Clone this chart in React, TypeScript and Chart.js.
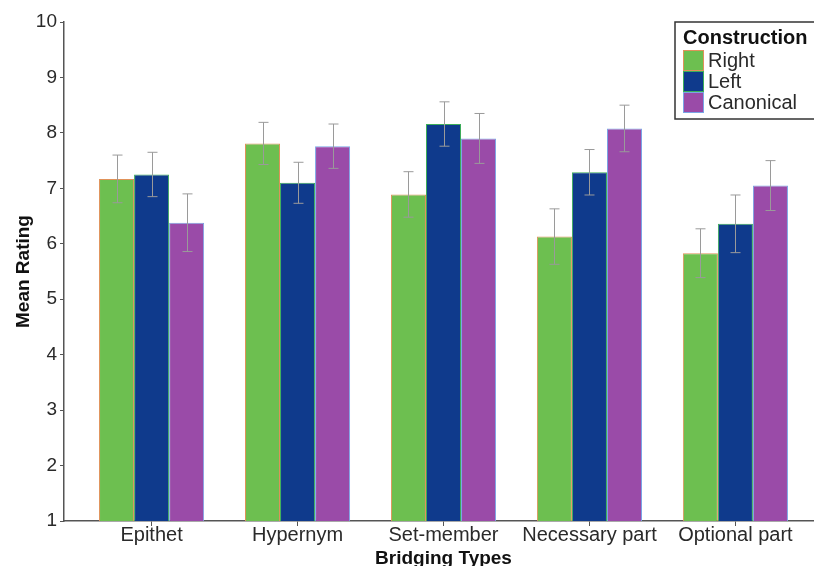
import React, { useEffect, useRef } from "react";
import { Chart, registerables } from "chart.js";

Chart.register(...registerables);

const categories = ["Epithet", "Hypernym", "Set-member", "Necessary part", "Optional part"];
const rightVals = [7.17, 7.81, 6.89, 6.13, 5.83];
const leftVals = [7.25, 7.10, 8.16, 7.29, 6.36];
const canonicalVals = [6.38, 7.76, 7.90, 8.08, 7.05];
const rightErr = [0.43, 0.38, 0.41, 0.5, 0.44];
const leftErr = [0.4, 0.37, 0.4, 0.41, 0.52];
const canonicalErr = [0.52, 0.4, 0.45, 0.42, 0.45];
const yTicks = [1, 2, 3, 4, 5, 6, 7, 8, 9, 10];
const seriesNames = ["Right", "Left", "Canonical"];

const FONT = "'Liberation Sans', Arial, sans-serif";
const TEXT = "#2a2a2a";
const AXIS = "#555555";

const fills = ["#6dbf50", "#0f3a8c", "#9a4ba8"];
const borders = ["#e0925a", "#3dae5a", "#7aa6e6"];

const errorBars = {
  id: "errorBars",
  afterDatasetsDraw(chart: any) {
    const ctx = chart.ctx;
    const y = chart.scales.y;
    const errs = [rightErr, leftErr, canonicalErr];
    ctx.save();
    ctx.strokeStyle = "#9a9a9a";
    ctx.lineWidth = 1;
    chart.data.datasets.forEach((ds: any, di: number) => {
      const meta = chart.getDatasetMeta(di);
      meta.data.forEach((bar: any, i: number) => {
        const v = ds.data[i].y;
        const e = errs[di][i];
        const top = y.getPixelForValue(v + e);
        const bot = y.getPixelForValue(v - e);
        const x = Math.round(bar.x) + 0.5;
        ctx.beginPath();
        ctx.moveTo(x, top);
        ctx.lineTo(x, bot);
        ctx.moveTo(x - 5, top);
        ctx.lineTo(x + 5, top);
        ctx.moveTo(x - 5, bot);
        ctx.lineTo(x + 5, bot);
        ctx.stroke();
      });
    });
    ctx.restore();
  },
};

const legendBox = {
  id: "legendBox",
  afterDraw(chart: any) {
    const ctx = chart.ctx;
    const area = chart.chartArea;
    const left = area.right - 148;
    const top = area.top;
    ctx.save();
    ctx.fillStyle = "#ffffff";
    ctx.fillRect(left, top, 160, 97);
    ctx.strokeStyle = "#333333";
    ctx.lineWidth = 1.5;
    ctx.strokeRect(left, top, 160, 97);
    ctx.fillStyle = "#111111";
    ctx.font = `bold 20px ${FONT}`;
    ctx.textBaseline = "middle";
    ctx.textAlign = "left";
    ctx.fillText("Construction", left + 8, top + 16);
    ctx.font = `20px ${FONT}`;
    seriesNames.forEach((name, i) => {
      const sy = top + 28 + i * 21;
      ctx.fillStyle = fills[i];
      ctx.fillRect(left + 8, sy, 21, 21);
      ctx.strokeStyle = borders[i];
      ctx.lineWidth = 1;
      ctx.strokeRect(left + 8.5, sy + 0.5, 20, 20);
      ctx.fillStyle = TEXT;
      ctx.fillText(name, left + 33, sy + 11);
    });
    ctx.restore();
  },
};

export default function App() {
  const ref = useRef<HTMLCanvasElement | null>(null);
  useEffect(() => {
    if (!ref.current) return;
    const seriesVals = [rightVals, leftVals, canonicalVals];
    const chart = new Chart(ref.current, {
      type: "bar",
      data: {
        datasets: seriesNames.map((name, di) => ({
          label: name,
          data: categories.map((_, i) => ({ x: i, y: seriesVals[di][i] })),
          backgroundColor: fills[di],
          borderColor: borders[di],
          borderWidth: 1,
          barPercentage: 1,
          categoryPercentage: 0.72,
        })),
      },
      options: {
        responsive: false,
        animation: false,
        devicePixelRatio: 1,
        layout: { padding: { left: 0, top: 22, right: 7, bottom: 0 } },
        plugins: { legend: { display: false }, tooltip: { enabled: false } },
        scales: {
          x: {
            type: "linear",
            min: -0.6,
            max: 4.6,
            offset: false,
            afterFit: (s: any) => {
              s.height = 45;
            },
            afterBuildTicks: (s: any) => {
              s.ticks = categories.map((_, i) => ({ value: i }));
            },
            ticks: {
              autoSkip: false,
              maxRotation: 0,
              padding: 0,
              color: TEXT,
              font: { family: FONT, size: 20, lineHeight: 0.9 },
              callback: (v: any) => categories[v],
            },
            grid: { offset: false, drawOnChartArea: false, drawTicks: true, tickLength: 5, color: AXIS },
            border: { display: true, color: AXIS, width: 1.5 },
            title: {
              display: true,
              text: "Bridging Types",
              color: "#111111",
              font: { family: FONT, size: 19, weight: "bold", lineHeight: 0.8 },
              padding: 0,
            },
          },
          y: {
            min: 1,
            max: 10,
            afterFit: (s: any) => {
              s.width = 64;
            },
            afterBuildTicks: (s: any) => {
              s.ticks = yTicks.map((v) => ({ value: v }));
            },
            ticks: {
              padding: 3,
              color: TEXT,
              font: { family: FONT, size: 19 },
            },
            grid: { drawOnChartArea: false, drawTicks: true, tickLength: 4, color: AXIS },
            border: { display: true, color: AXIS, width: 1.5 },
            title: {
              display: true,
              text: "Mean Rating",
              color: "#111111",
              font: { family: FONT, size: 19, weight: "bold", lineHeight: 1.2 },
              padding: { top: 12, bottom: 0 },
            },
          },
        },
      },
      plugins: [errorBars, legendBox],
    } as any);
    return () => chart.destroy();
  }, []);
  return (
    <div
      style={{
        position: "fixed",
        left: 0,
        top: 0,
        width: 814,
        height: 566,
        overflow: "hidden",
        background: "#ffffff",
      }}
    >
      <canvas ref={ref} width={830} height={566} style={{ display: "block" }} />
    </div>
  );
}
